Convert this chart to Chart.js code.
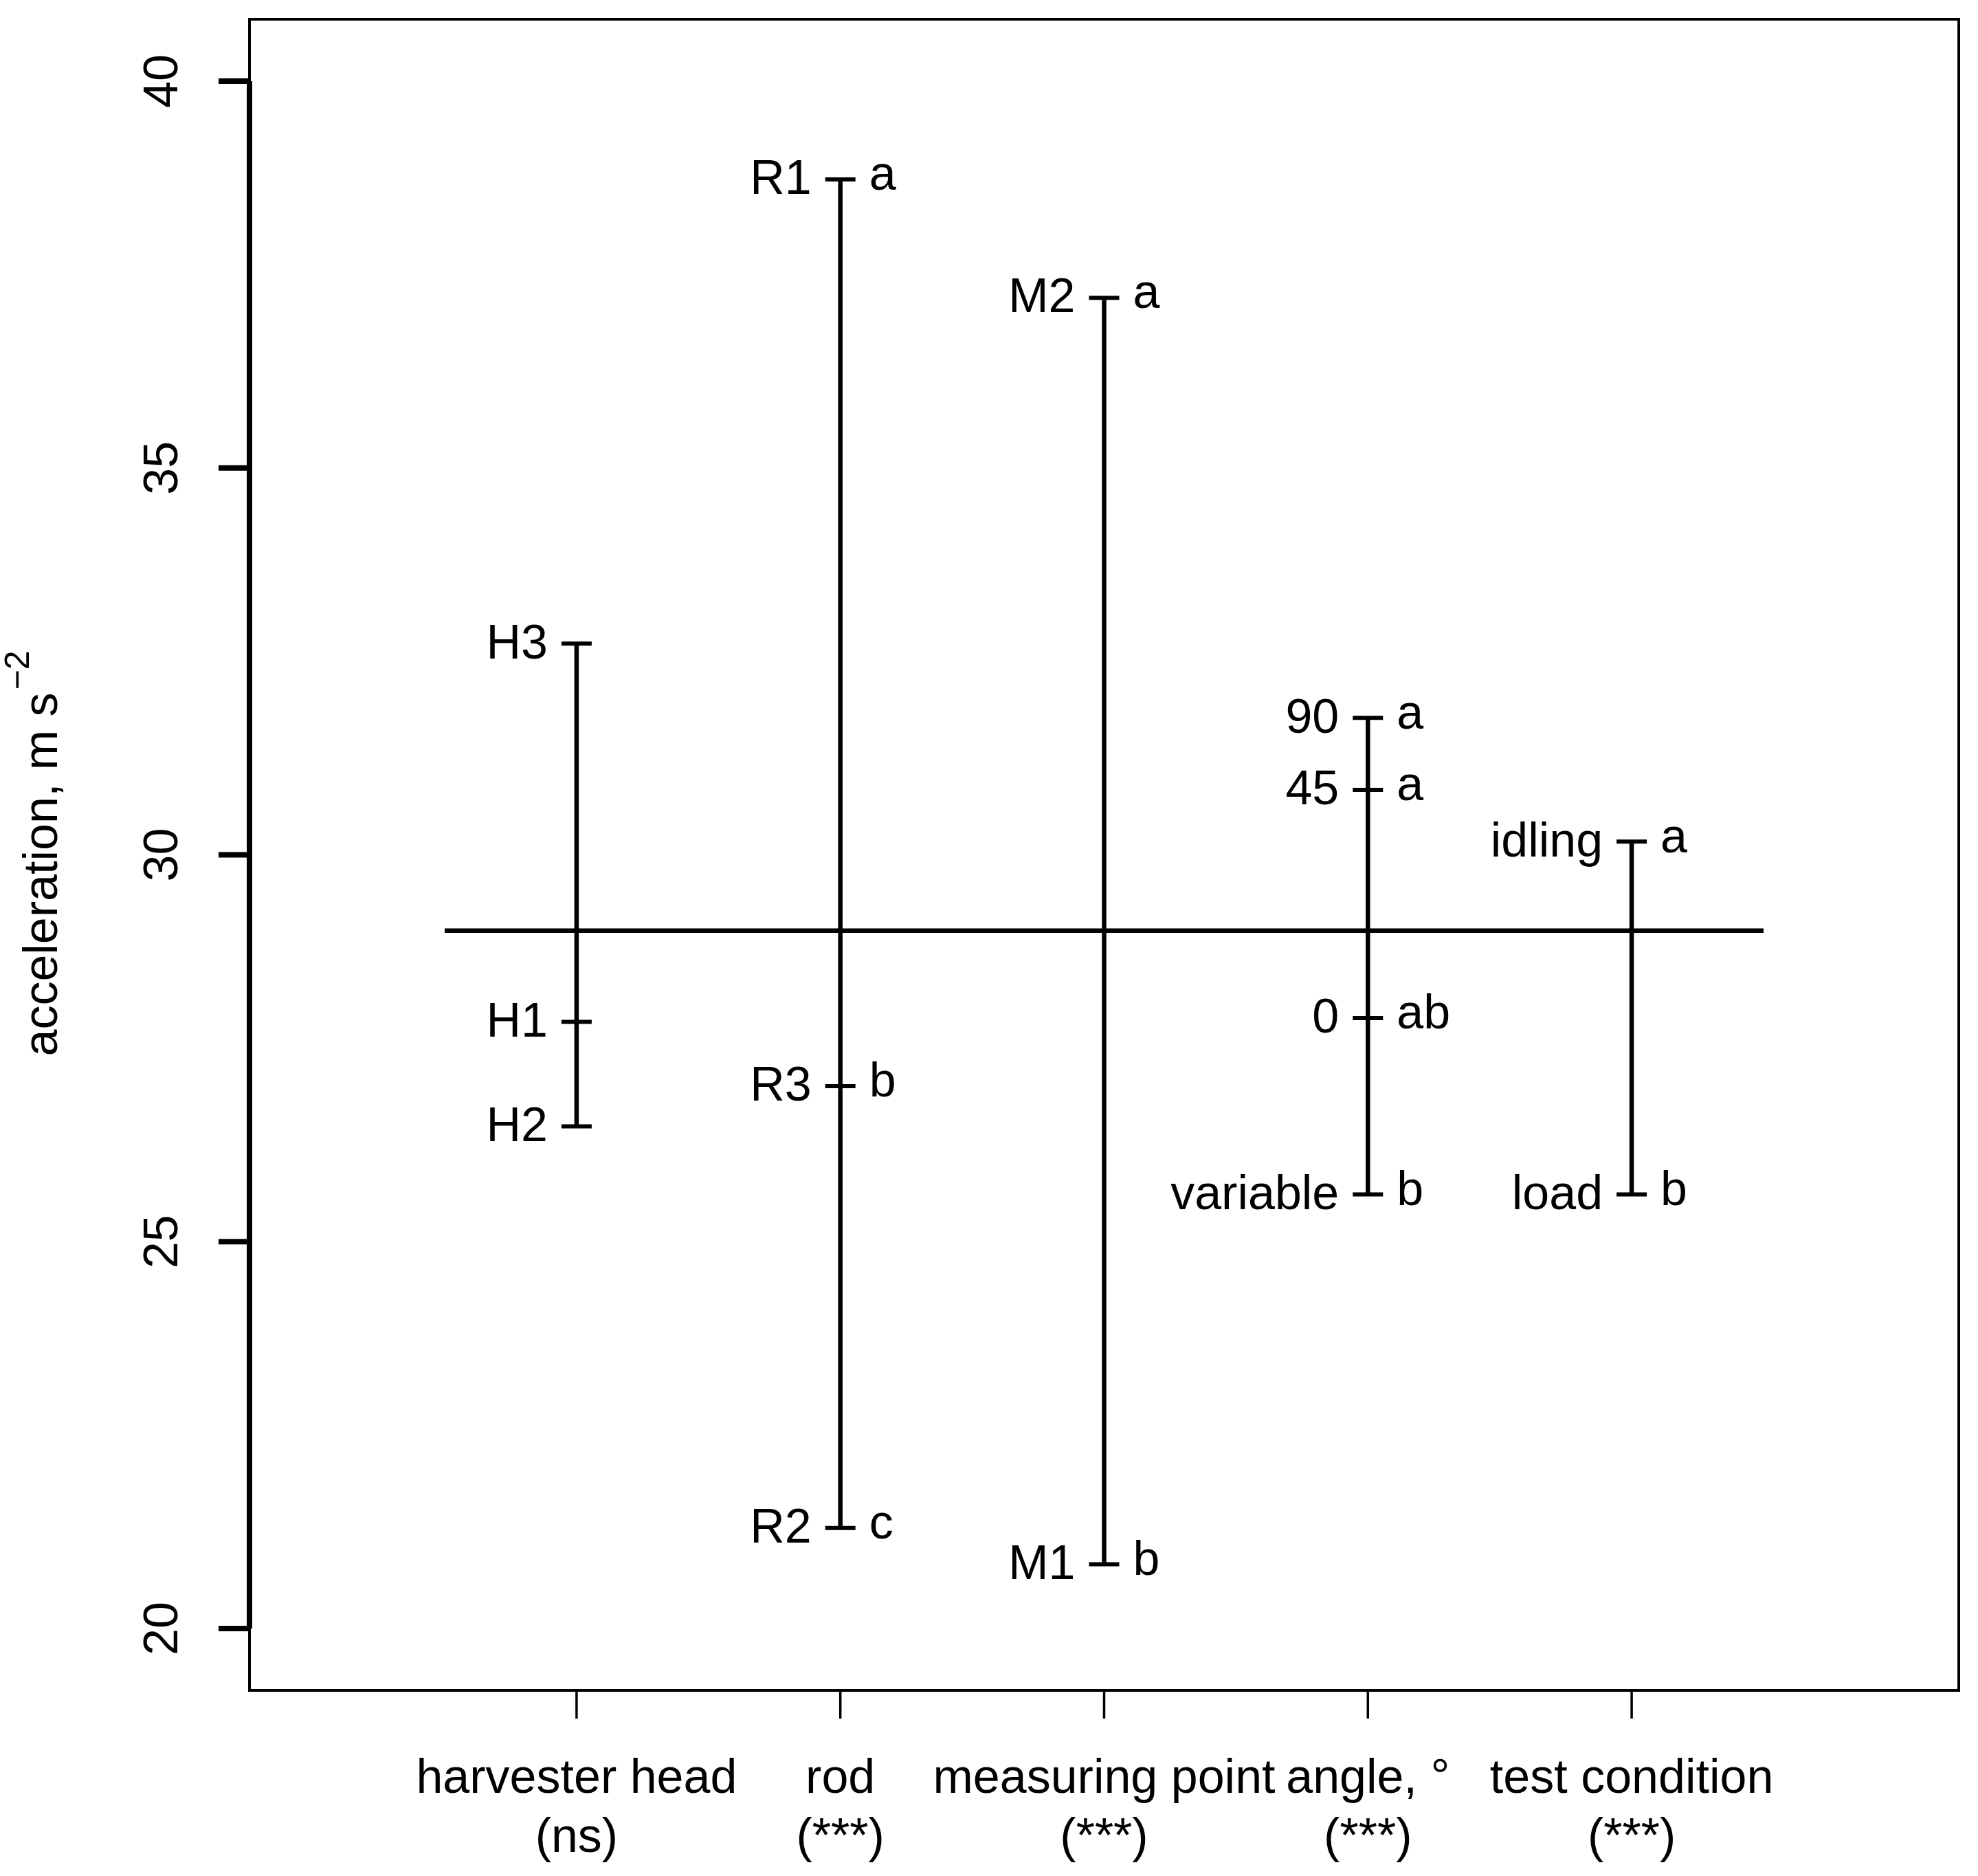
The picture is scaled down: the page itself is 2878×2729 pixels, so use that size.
<!DOCTYPE html>
<html><head><meta charset="utf-8">
<script src="https://cdn.jsdelivr.net/npm/chart.js@4/dist/chart.umd.min.js"></script>
<style>html,body{margin:0;padding:0;background:#fff}canvas{display:block}</style>
</head><body><canvas id="c" width="2878" height="2729"></canvas>
<script>
const levelLabels = [["H3","H1","H2"],["R1","R3","R2"],["M2","M1"],["90","45","0","variable"],["idling","load"]];
const levelValues = [[32.73,27.84,26.49],[38.73,27.01,21.30],[37.20,20.83],[31.77,30.84,27.89,25.61],[30.17,25.61]];
const letters = [["","",""],["a","b","c"],["a","b"],["a","a","ab","b"],["a","b"]];
const axisLabels1 = ["harvester head","rod","measuring point","angle, °","test condition"];
const axisLabels2 = ["(ns)","(***)","(***)","(***)","(***)"];
const grandMean = 29.02;
const yTicks = [20,25,30,35,40];

const F = '"Liberation Sans", Arial, sans-serif';
const FS = 70;
const datasets = [];
levelValues.forEach((vals,i)=>{
  const x=i+1;
  datasets.push({type:'line',data:[{x,y:Math.min(...vals)},{x,y:Math.max(...vals)}],borderColor:'#000',borderWidth:6.5,pointRadius:0});
  datasets.push({type:'scatter',data:vals.map(v=>({x,y:v})),pointStyle:'line',pointRadius:22,borderColor:'#000',pointBorderWidth:6,backgroundColor:'#000'});
});
datasets.push({type:'line',data:[{x:0.5,y:grandMean},{x:5.5,y:grandMean}],borderColor:'#000',borderWidth:6.5,pointRadius:0});

const deco = {id:'deco',afterDraw(ch){
  const c=ch.ctx,a=ch.chartArea,xs=ch.scales.x,ys=ch.scales.y;
  c.save();c.fillStyle='#000';c.strokeStyle='#000';
  c.lineWidth=4;c.strokeRect(a.left,a.top,a.right-a.left,a.bottom-a.top);
  c.lineWidth=8;c.beginPath();c.moveTo(a.left,ys.getPixelForValue(20));c.lineTo(a.left,ys.getPixelForValue(40));c.stroke();
  c.font=FS+'px '+F;c.textAlign='center';c.textBaseline='middle';
  yTicks.forEach(t=>{const y=ys.getPixelForValue(t);c.beginPath();c.moveTo(a.left,y);c.lineTo(a.left-45,y);c.stroke();
    c.save();c.translate(239,y);c.rotate(-Math.PI/2);c.fillText(String(t),0,0);c.restore();});
  c.save();c.translate(64,(a.top+a.bottom)/2);c.rotate(-Math.PI/2);c.textAlign='left';
  const t1='acceleration, m s';const w1=c.measureText(t1).width;c.font='50px '+F;const w2=c.measureText('−2').width;
  c.font=FS+'px '+F;const x0=-(w1+w2)/2;c.fillText(t1,x0,0);c.font='50px '+F;c.fillText('−2',x0+w1+4,-36);c.restore();
  c.lineWidth=3.5;c.font=FS+'px '+F;
  for(let i=0;i<5;i++){const x=xs.getPixelForValue(i+1);c.beginPath();c.moveTo(x,a.bottom);c.lineTo(x,a.bottom+41);c.stroke();
    c.fillText(axisLabels1[i],x,2589);c.fillText(axisLabels2[i],x,2675);}
  levelValues.forEach((vals,i)=>{const x=xs.getPixelForValue(i+1);vals.forEach((v,j)=>{const y=ys.getPixelForValue(v);
    c.textAlign='right';c.fillText(levelLabels[i][j],x-42,y+2);c.textAlign='left';c.fillText(letters[i][j],x+42,y-4);});});
  c.restore();
}};
new Chart(document.getElementById('c'),{data:{datasets},plugins:[deco],options:{
  responsive:false,animation:false,devicePixelRatio:1,
  layout:{padding:{left:363,right:28,top:24,bottom:270}},
  plugins:{legend:{display:false},tooltip:{enabled:false}},
  scales:{x:{type:'linear',min:-0.24,max:6.24,display:false},y:{type:'linear',min:19.2,max:40.8,display:false}}
}});
</script></body></html>
